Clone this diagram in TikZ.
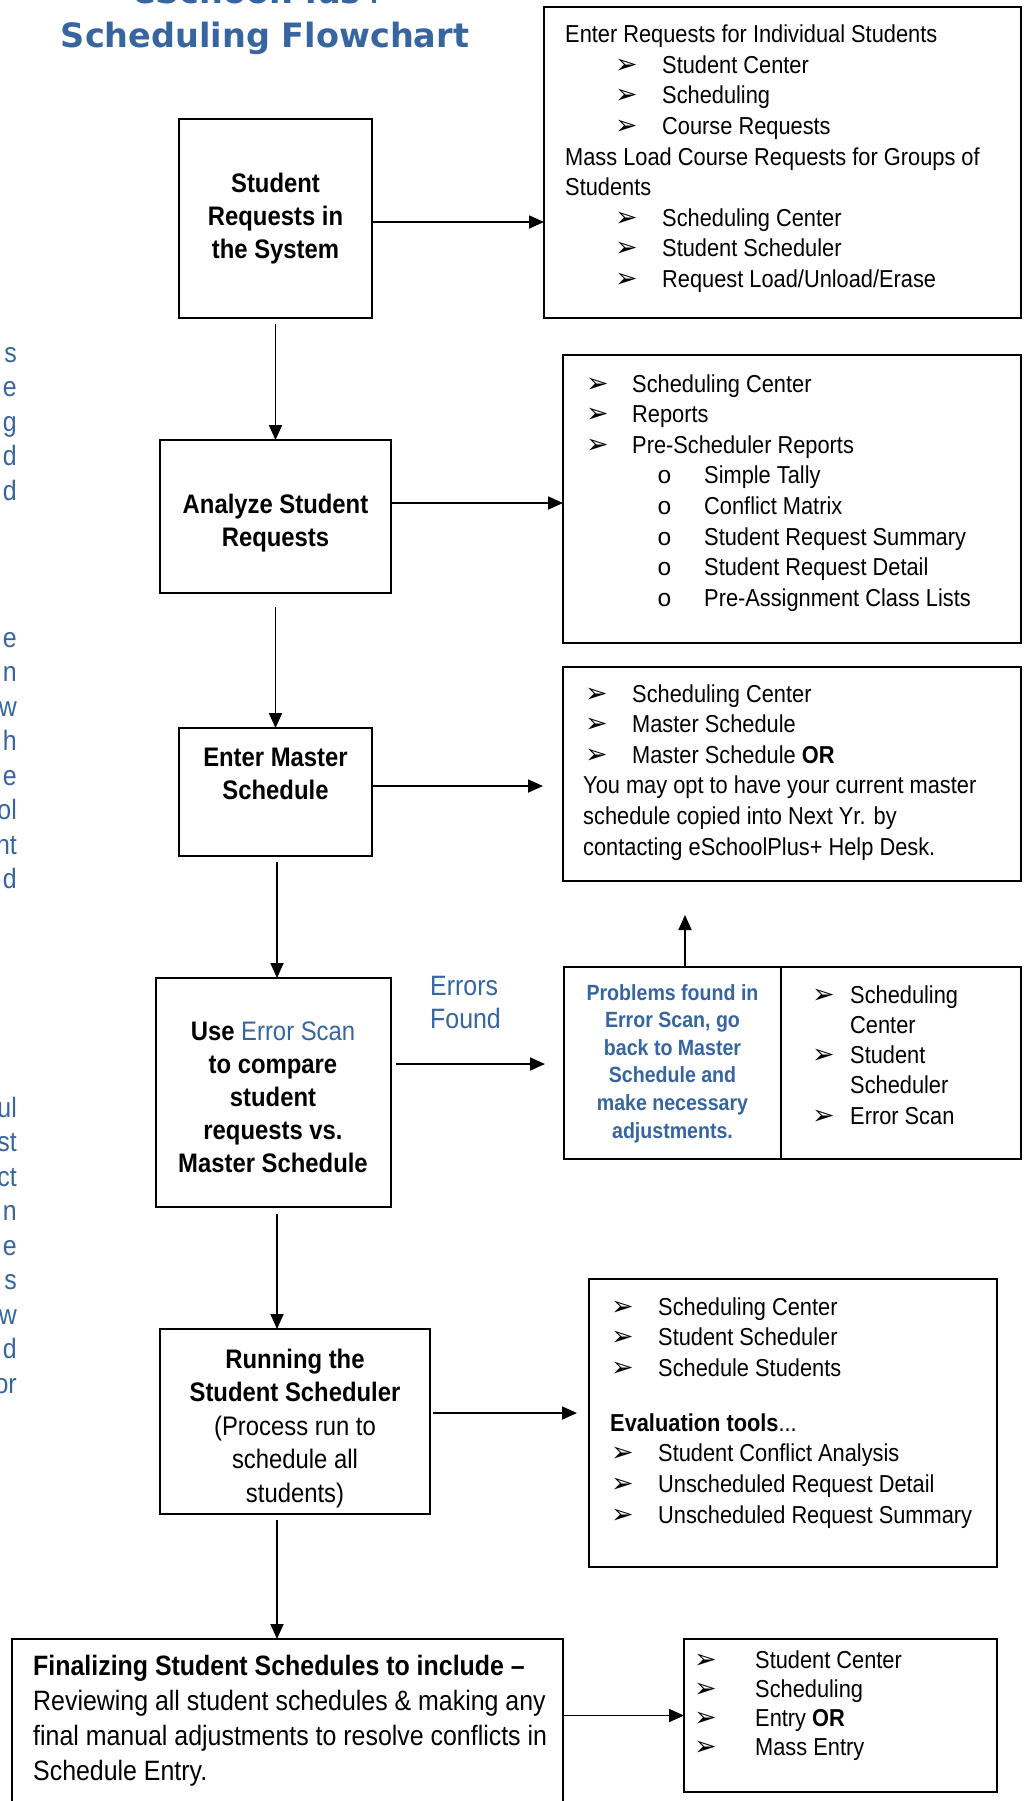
\documentclass[tikz,border=0pt]{standalone}
\usepackage{fontspec}
\setmainfont{Liberation Sans}[FakeStretch=0.89]
\newfontfamily\ttlfont{DejaVu Sans}
\newfontfamily\dvsans{DejaVu Sans}
\newfontfamily\lmono{Liberation Mono}
\usetikzlibrary{arrows.meta}
\definecolor{eblue}{RGB}{54,101,160}
\newcommand\arwglyph{{\dvsans\fontsize{27}{27}\selectfont ➢}}
\newcommand\bulA[2]{\hspace*{#1pt}\makebox[#2pt][l]{\arwglyph}}
\newcommand\bulO[2]{\hspace*{#1pt}\makebox[#2pt][l]{\lmono o}}
\newcommand\bx[5]{\node[box, minimum width={#4-#2}, minimum height={#5-#3}] (#1) at (#2,#3) {};}
\tikzset{
  box/.style={draw, line width=1.8pt, inner sep=0pt, outer sep=0pt, anchor=north west, rectangle},
  arr/.style={line width=1.8pt, -{Triangle[length=15pt,width=13pt]}},
  btxt/.style={inner sep=0pt, anchor=base, align=center, font=\bfseries\fontsize{26.8}{33}\selectfont},
  ltxt/.style={inner sep=0pt, anchor=base west, align=left, font=\fontsize{24.5}{30.6}\selectfont},
  frag/.style={inner sep=0pt, anchor=base east, text=eblue, font=\fontsize{28}{28}\selectfont},
  ttl/.style={inner sep=0pt, anchor=base, text=eblue, font=\ttlfont\bfseries\fontsize{33.5}{40}\selectfont}
}
\begin{document}
\begin{tikzpicture}[x=1pt,y=-1pt]
\useasboundingbox (0,0) rectangle (1025,1801);
\clip (0,0) rectangle (1025,1801);
\fill[white] (0,0) rectangle (1025,1801);

% title
\node[ttl] (t1) at (261,4) {eSchoolPlus+};
\node[ttl] (t2) at (265,48) {Scheduling Flowchart};

% clipped left text fragments
\foreach \t/\y [count=\i] in {s/362,e/396.5,g/431,d/465.5,d/500,e/647,n/681.5,w/716,h/750.5,e/785,ol/819.5,nt/854,d/888.5,ul/1117,st/1151.5,ct/1186,n/1220.5,e/1255,s/1289.5,w/1324,d/1358.5,or/1393}
  \node[frag] (fr\i) at (17,\y) {\t};

% main boxes (text nodes are placed by the baseline of their last line)
\bx{b1}{179}{119}{372}{318}
\node[btxt] (b1t) at (275.5,258) {Student\\Requests in\\the System};
\bx{b2}{160}{440}{391}{593}
\node[btxt] (b2t) at (275.5,546) {Analyze Student\\Requests};
\bx{b3}{179}{728}{372}{856}
\node[btxt] (b3t) at (275.5,799) {Enter Master\\Schedule};
\bx{b4}{156}{978}{391}{1207}
\node[btxt] (b4t) at (273,1172) {Use {\mdseries\color{eblue}Error Scan}\\to compare\\student\\requests vs.\\Master Schedule};
\bx{b5}{160}{1329}{430}{1514}
\node[btxt, font=\bfseries\fontsize{26.8}{33.5}\selectfont] (b5t) at (295,1502) {Running the\\Student Scheduler\\{\mdseries(Process run to}\\{\mdseries schedule all}\\{\mdseries students)}};
\bx{b6}{12}{1639}{563}{1815}
\node[ltxt, font=\fontsize{28}{35}\selectfont] (b6t) at (33,1780) {\textbf{Finalizing Student Schedules to include –}\\Reviewing all student schedules \& making any\\final manual adjustments to resolve conflicts in\\Schedule Entry.};

% right boxes
\bx{r1}{544}{7}{1021}{318}
\node[ltxt] (r1t) at (565,287.5) {Enter Requests for Individual Students\\
\bulA{50}{47}Student Center\\
\bulA{50}{47}Scheduling\\
\bulA{50}{47}Course Requests\\
Mass Load Course Requests for Groups of\\
Students\\
\bulA{50}{47}Scheduling Center\\
\bulA{50}{47}Student Scheduler\\
\bulA{50}{47}Request Load/Unload/Erase};

\bx{r2}{563}{355}{1021}{643}
\node[ltxt] (r2t) at (586,606.2) {\bulA{0}{46}Scheduling Center\\
\bulA{0}{46}Reports\\
\bulA{0}{46}Pre-Scheduler Reports\\
\bulO{71}{47}Simple Tally\\
\bulO{71}{47}Conflict Matrix\\
\bulO{71}{47}Student Request Summary\\
\bulO{71}{47}Student Request Detail\\
\bulO{71}{47}Pre-Assignment Class Lists};

\bx{r3}{563}{667}{1021}{881}
\node[ltxt] (r3t) at (583,855) {\bulA{2}{47}Scheduling Center\\
\bulA{2}{47}Master Schedule\\
\bulA{2}{47}Master Schedule \textbf{OR}\\
You may opt to have your current master\\
schedule copied into Next Yr. by\\
contacting eSchoolPlus+ Help Desk.};

\bx{pbl}{564}{967}{781}{1159}
\bx{pbr}{781}{967}{1021}{1159}
\node[btxt, text=eblue, font=\bfseries\fontsize{22}{27.6}\selectfont] (pblt) at (672.5,1138) {Problems found in\\Error Scan, go\\back to Master\\Schedule and\\make necessary\\adjustments.};
\node[ltxt, font=\fontsize{24.5}{30.3}\selectfont] (pbrt) at (812,1124.2) {\bulA{0}{38}Scheduling\\
\hspace*{38pt}Center\\
\bulA{0}{38}Student\\
\hspace*{38pt}Scheduler\\
\bulA{0}{38}Error Scan};

\bx{r5}{589}{1279}{997}{1567}
\node[ltxt] (r5t) at (610,1523) {\bulA{1}{47}Scheduling Center\\
\bulA{1}{47}Student Scheduler\\
\bulA{1}{47}Schedule Students\\[24.4pt]
\textbf{Evaluation tools}...\\
\bulA{1}{47}Student Conflict Analysis\\
\bulA{1}{47}Unscheduled Request Detail\\
\bulA{1}{47}Unscheduled Request Summary};

\bx{r6}{684}{1639}{997}{1792}
\node[ltxt, font=\fontsize{24.5}{29}\selectfont] (r6t) at (694,1755) {\bulA{0}{61}Student Center\\
\bulA{0}{61}Scheduling\\
\bulA{0}{61}Entry \textbf{OR}\\
\bulA{0}{61}Mass Entry};

% Errors Found label
\node[inner sep=0pt, anchor=base west, align=left, text=eblue, font=\fontsize{28}{33}\selectfont] (ef) at (430,1028) {Errors\\Found};

% connectors
\coordinate (spine) at (277,0);
\draw[arr] ([yshift=-6pt]b1.south) -- (b2.north);
\draw[arr] ([yshift=-14pt]b2.south) -- (b3.north);
\draw[arr] ([yshift=-6pt]b3.south -| spine) -- (b4.north -| spine);
\draw[arr] ([yshift=-7pt]b4.south -| spine) -- (b5.north -| spine);
\draw[arr] ([yshift=-6pt]b5.south -| spine) -- (b6.north -| spine);

\draw[arr] ([yshift=-3.5pt]b1.east) -- ([yshift=-3.5pt]b1.east -| r1.west);
\draw[arr] ([yshift=13.5pt]b2.east) -- ([yshift=13.5pt]b2.east -| r2.west);
\draw[arr, shorten >=20pt] ([yshift=6pt]b3.east) -- ([yshift=6pt]b3.east -| r3.west);
\draw[arr, shorten >=19pt] ([xshift=5pt,yshift=28.5pt]b4.east) -- ([yshift=28.5pt]b4.east -| pbl.west);
\draw[arr, shorten >=12pt] ([xshift=3pt,yshift=8.5pt]b5.east) -- ([yshift=8.5pt]b5.east -| r5.west);
\draw[arr] (b6.east |- r6.west) -- (r6.west);

\coordinate (upx) at (685,0);
\draw[arr, shorten >=34pt] (pbl.north -| upx) -- (r3.south -| upx);
\end{tikzpicture}
\end{document}
